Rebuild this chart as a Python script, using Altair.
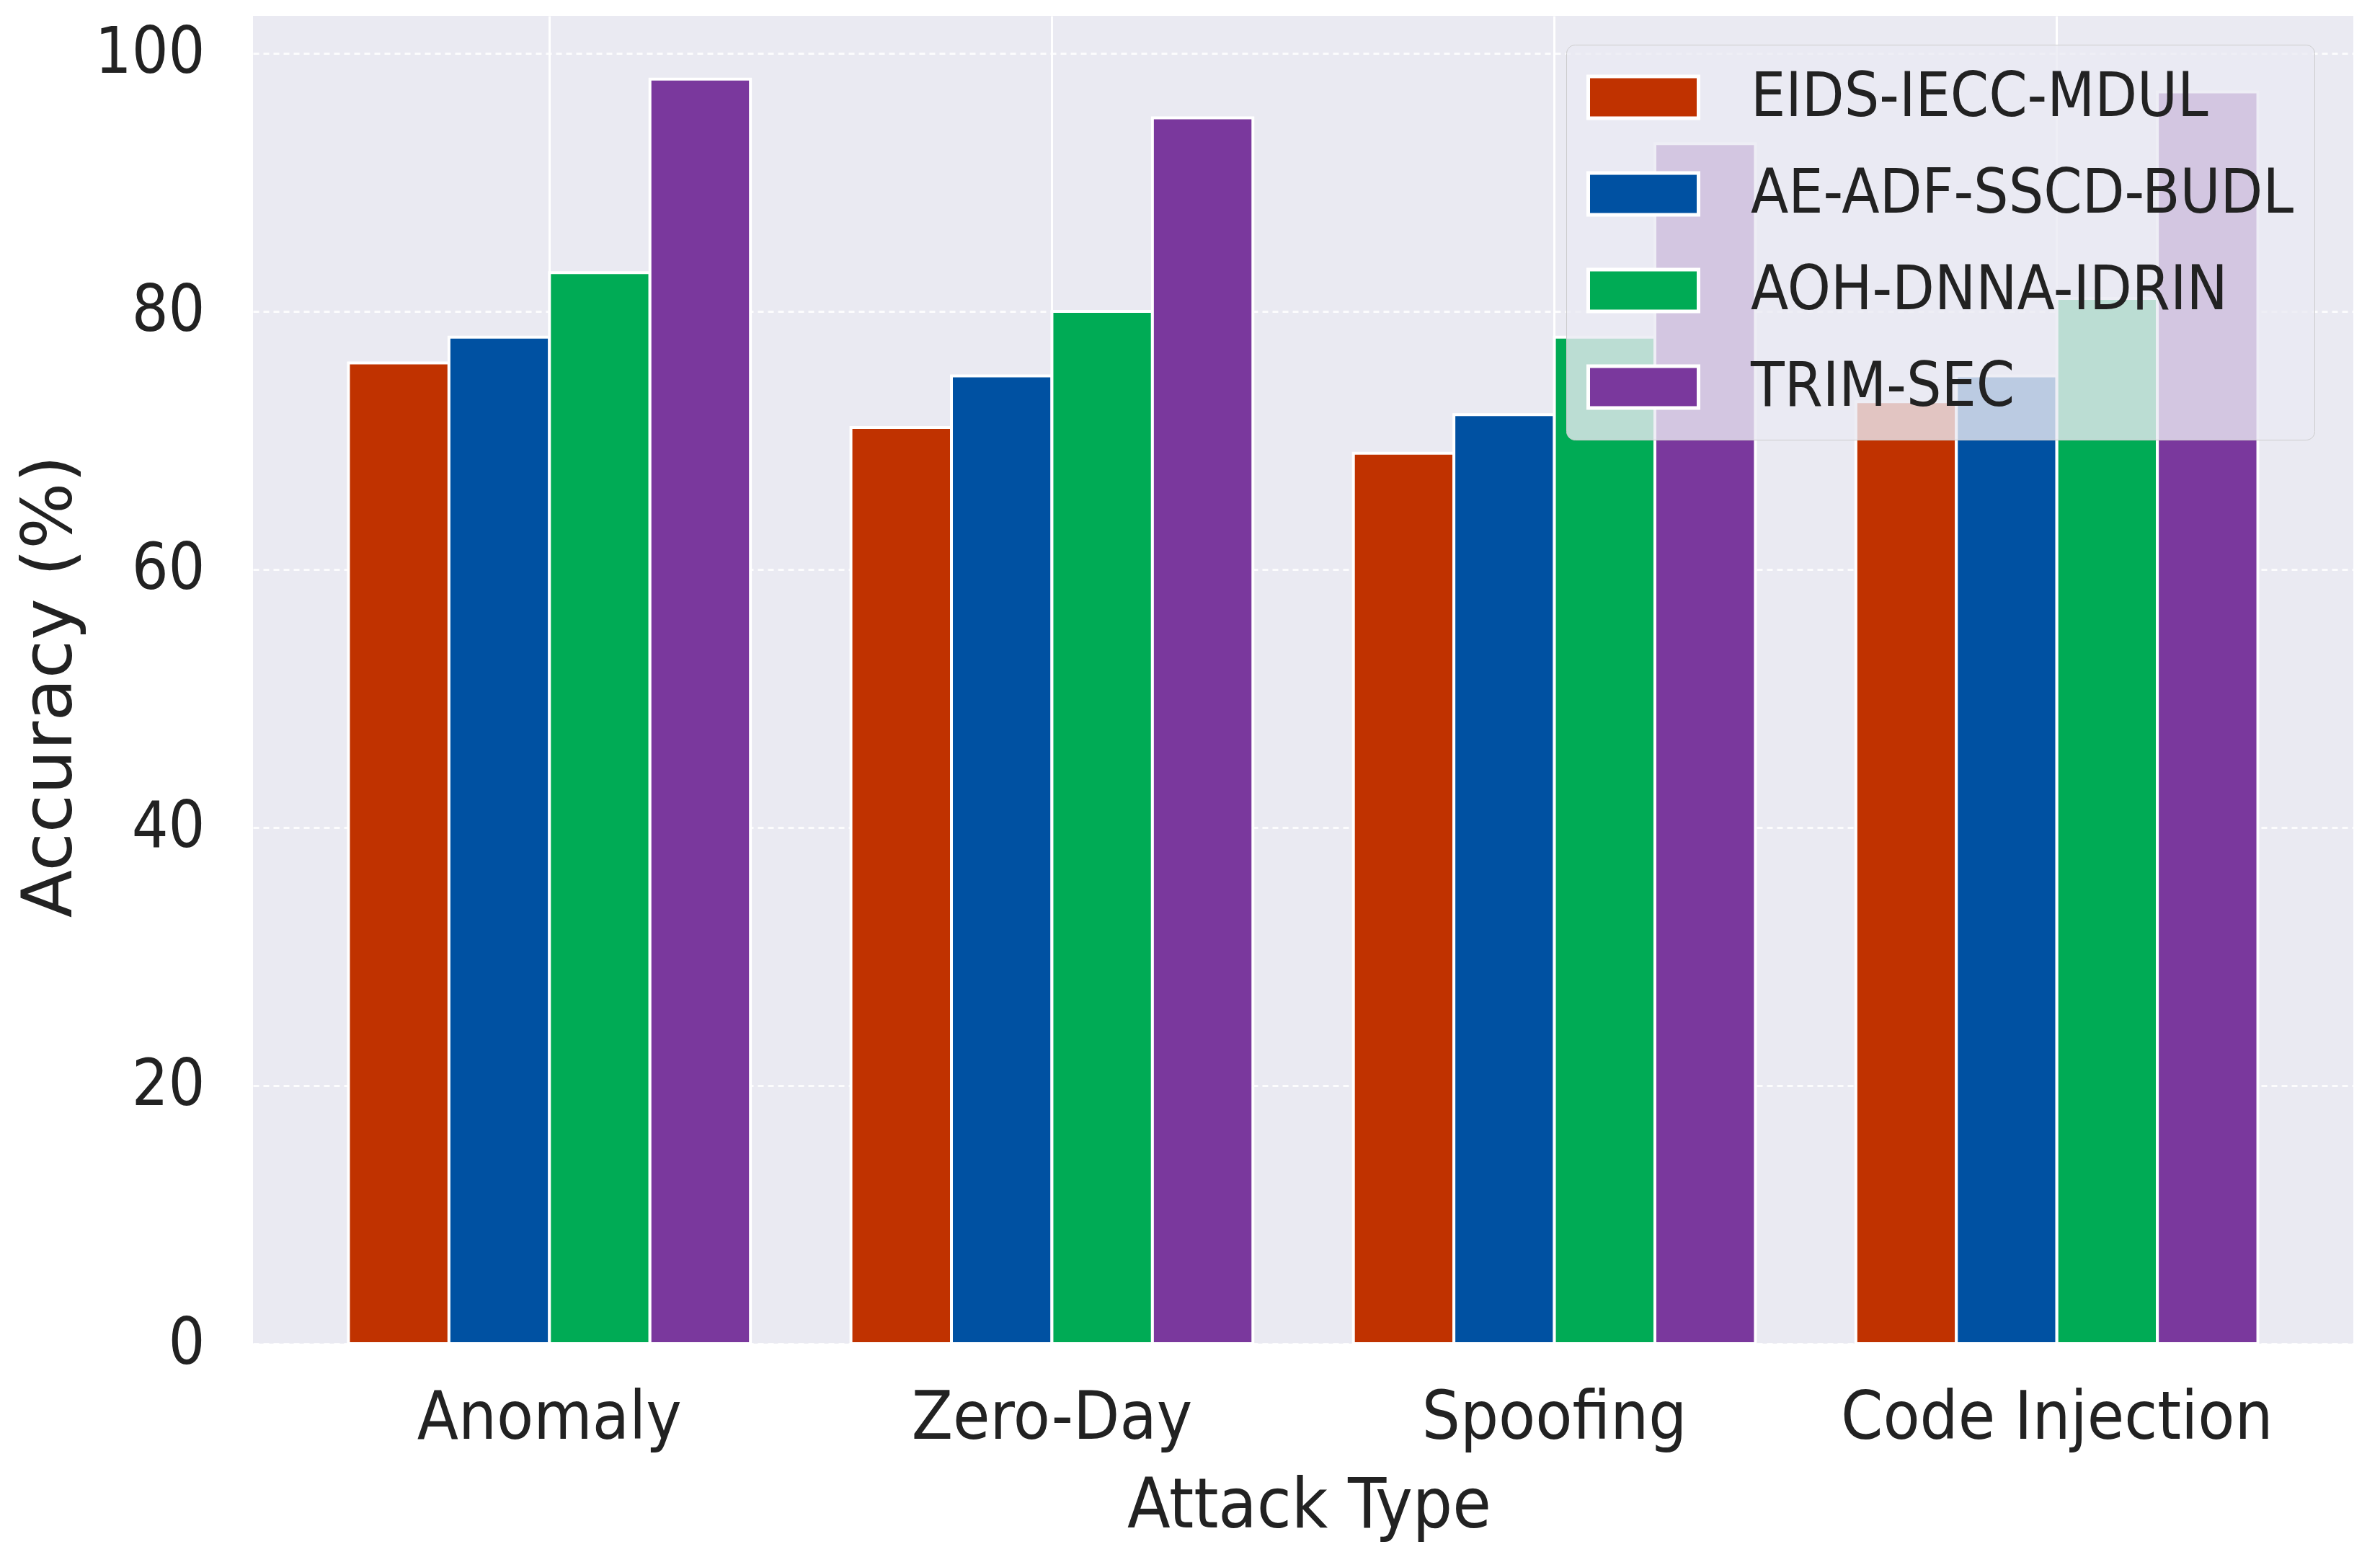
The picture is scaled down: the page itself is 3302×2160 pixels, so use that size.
import altair as alt
import pandas as pd

attacks = ["Anomaly", "Zero-Day", "Spoofing", "Code Injection"]
methods = ["EIDS-IECC-MDUL", "AE-ADF-SSCD-BUDL", "AOH-DNNA-IDRIN", "TRIM-SEC"]
eids = [76, 71, 69, 73]
aeadf = [78, 75, 72, 75]
aoh = [83, 80, 78, 81]
trim = [98, 95, 93, 97]
colors = ["#C03200", "#0051A2", "#00AB55", "#7A389D"]

series = [eids, aeadf, aoh, trim]
rows = []
for m, vals in zip(methods, series):
    for a, v in zip(attacks, vals):
        rows.append({"attack": a, "method": m, "acc": v})
df = pd.DataFrame(rows)

FONT = "DejaVu Sans Condensed, DejaVu Sans, sans-serif"
TXT = "#222222"

chart = alt.Chart(df).mark_bar(stroke="white", strokeWidth=4).encode(
    x=alt.X("attack:N", sort=attacks,
            scale=alt.Scale(paddingInner=0.2, paddingOuter=0.19),
            axis=alt.Axis(title="Attack Type", labelAngle=0, labelFont=FONT,
                          labelFontSize=93, labelColor=TXT, labelPadding=58,
                          labelLimit=0,
                          ticks=False, tickSize=0, domain=False,
                          grid=True, gridColor="white", gridWidth=3,
                          bandPosition=0.5,
                          titleFont=FONT, titleFontSize=97, titleColor=TXT,
                          titleFontWeight="normal", titleX=1465, titleY=254,
                          titleBaseline="alphabetic")),
    xOffset=alt.XOffset("method:N", sort=methods,
                        scale=alt.Scale(paddingInner=0, paddingOuter=0)),
    y=alt.Y("acc:Q",
            scale=alt.Scale(domain=[0, 102.9], nice=False, zero=True),
            axis=alt.Axis(title="Accuracy (%)", values=[0, 20, 40, 60, 80, 100],
                          labelFont=FONT, labelFontSize=89, labelColor=TXT,
                          labelPadding=67, ticks=False, tickSize=0, domain=False,
                          grid=True, gridColor="white", gridWidth=3,
                          gridDash=[8, 6], gridOpacity=0.85,
                          titleFont="DejaVu Sans, sans-serif", titleFontSize=97,
                          titleColor=TXT, titleFontWeight="normal",
                          titleAngle=-90, titleX=-282, titleY=930,
                          titleBaseline="middle", titleAlign="center")),
    color=alt.Color("method:N", sort=methods,
                    scale=alt.Scale(domain=methods, range=colors),
                    legend=alt.Legend(title=None, orient="none",
                                      legendX=1822, legendY=40,
                                      symbolType="M-1,-0.38H1V0.38H-1Z",
                                      symbolSize=23409,
                                      symbolStrokeColor="white",
                                      symbolStrokeWidth=5, symbolOpacity=1,
                                      labelFont=FONT, labelFontSize=85,
                                      labelColor=TXT, labelOffset=70,
                                      labelLimit=0, rowPadding=44,
                                      clipHeight=90,
                                      padding=28,
                                      fillColor="rgba(234,234,242,0.8)",
                                      strokeColor="#cccccc",
                                      cornerRadius=12)),
).properties(
    width=2914, height=1842,
    autosize=alt.AutoSizeParams(type="none"),
    padding={"left": 343, "top": 14, "right": 20, "bottom": 280},
    background="white",
).configure_view(fill="#EAEAF2", strokeWidth=0)

chart.save("out.html", embed_options={"renderer": "svg", "actions": False})
